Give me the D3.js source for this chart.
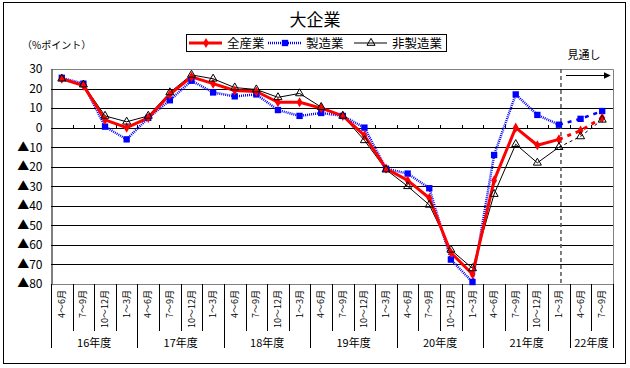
<!DOCTYPE html>
<html>
<head>
<meta charset="utf-8">
<script src="https://cdn.jsdelivr.net/npm/d3@7"></script>
<style>
  body { margin: 0; background: #fff; }
  text { font-family: 'Noto Sans CJK JP', sans-serif; fill: #000; }
</style>
</head>
<body>
<div id="chart"></div>
<script>
// quarter labels, fiscal years and how many quarters each year has
const quarterNames = ['4～6月', '7～9月', '10～12月', '1～3月']
const fiscalYears = ['16年度', '17年度', '18年度', '19年度', '20年度', '21年度', '22年度']
const quartersPerYear = [4, 4, 4, 4, 4, 4, 2]

// DI (%ポイント)
const allIndustries = [25, 21.5, 4, 0, 5, 17, 26, 22.5, 19, 18.5, 13, 13, 10, 6, -4, -21, -27, -36, -64, -75, -27, 0, -9, -6, -1.5, 5]
const manufacturing = [25.5, 22.5, 0.5, -6, 5, 14, 24, 18, 16, 17, 9, 6, 7.5, 6, 0, -21, -23.5, -31, -67.5, -79, -14, 17, 6.5, 1.5, 4.5, 8.5]
const nonManufacturing = [25, 22, 6, 3, 6, 18, 27, 25, 20.5, 19.5, 15.5, 17.5, 10.5, 6, -6.5, -21.5, -30, -39.5, -62.5, -72, -34, -8.5, -18, -10, -4.5, 4]

const yTicks = [30, 20, 10, 0, -10, -20, -30, -40, -50, -60, -70, -80]
const forecastFrom = 23 // last actual quarter, dashed after it

// build the category list
const cats = []
fiscalYears.forEach((fy, j) => {
  for (let q = 0; q < quartersPerYear[j]; q++) cats.push({ fy, q: quarterNames[q] })
})
const idx = d3.range(cats.length)

const width = 630
const height = 368
const plot = { left: 51, right: 613, top: 69, bottom: 284 }

const svg = d3.select('#chart').append('svg').attr('width', width).attr('height', height)

// outer frame
svg.append('rect')
  .attr('x', 3.5).attr('y', 2.5).attr('width', 622).attr('height', 361)
  .attr('fill', 'none').attr('stroke', '#000').attr('stroke-width', 1)

const x = d3.scaleBand().domain(idx).range([plot.left, plot.right])
const bw = x.bandwidth()
const cx = i => x(i) + bw / 2
const y = d3.scaleLinear().domain([-80, 30]).range([plot.bottom, plot.top])

// gridlines
svg.append('g')
  .selectAll('line')
  .data(yTicks.filter(v => v !== 30 && v !== -80))
  .join('line')
  .attr('x1', plot.left).attr('x2', plot.right)
  .attr('y1', d => Math.round(y(d)) + 0.5).attr('y2', d => Math.round(y(d)) + 0.5)
  .attr('stroke', '#000')

// plot border (gray top/right/bottom)
svg.append('path')
  .attr('d', `M${plot.left},${Math.round(y(30)) + 0.5}H${plot.right + 0.5}V${Math.round(y(-80)) + 0.5}H${plot.left}`)
  .attr('stroke', '#808080').attr('fill', 'none')

// y axis
const yAxis = d3.axisLeft(y)
  .tickValues(yTicks)
  .tickSize(0)
  .tickPadding(9)
  .tickFormat(d => (d < 0 ? '▲' + (-d) : d))
const gy = svg.append('g').attr('transform', `translate(${plot.left + 0.5},0)`).call(yAxis)
gy.select('.domain').attr('stroke', '#000')
gy.selectAll('text').style('font-size', '12px').attr('fill', '#000')

// small ticks on the zero line
svg.append('g')
  .selectAll('line')
  .data(idx.slice(1))
  .join('line')
  .attr('x1', d => Math.round(x(d)) + 0.5).attr('x2', d => Math.round(x(d)) + 0.5)
  .attr('y1', Math.round(y(0)) - 3).attr('y2', Math.round(y(0)) + 1)
  .attr('stroke', '#000')

// category separators below the plot
const yearStarts = new Set()
let acc = 0
quartersPerYear.forEach(n => { yearStarts.add(acc); acc += n })
yearStarts.add(cats.length)
svg.append('g')
  .selectAll('line')
  .data(d3.range(cats.length + 1))
  .join('line')
  .attr('x1', d => Math.round(d < cats.length ? x(d) : plot.right) + 0.5)
  .attr('x2', d => Math.round(d < cats.length ? x(d) : plot.right) + 0.5)
  .attr('y1', plot.bottom)
  .attr('y2', d => (yearStarts.has(d) ? 348 : 331))
  .attr('stroke', '#000')

// quarter labels (rotated)
svg.append('g')
  .selectAll('text')
  .data(idx)
  .join('text')
  .attr('transform', d => `translate(${cx(d) + 3},${plot.bottom + 6}) rotate(-90)`)
  .attr('text-anchor', 'end')
  .style('font-size', '9px')
  .text(d => cats[d].q)

// fiscal year labels
let start = 0
const yearPos = quartersPerYear.map((n, j) => {
  const a = x(start)
  const b = start + n < cats.length ? x(start + n) : plot.right
  start += n
  return { label: fiscalYears[j], mid: (a + b) / 2 }
})
svg.append('g')
  .selectAll('text')
  .data(yearPos)
  .join('text')
  .attr('x', d => d.mid)
  .attr('y', 347)
  .attr('text-anchor', 'middle')
  .style('font-size', '11px')
  .text(d => d.label)

// forecast divider and arrow
const divX = cx(forecastFrom) + 2
svg.append('line')
  .attr('x1', divX).attr('x2', divX)
  .attr('y1', plot.top).attr('y2', plot.bottom)
  .attr('stroke', '#555').attr('stroke-width', 1.5).attr('stroke-dasharray', '4,3')

svg.append('defs').append('marker')
  .attr('id', 'arrow').attr('viewBox', '0 0 10 10').attr('refX', 9).attr('refY', 5)
  .attr('markerWidth', 7).attr('markerHeight', 7).attr('markerUnits', 'userSpaceOnUse')
  .attr('orient', 'auto')
  .append('path').attr('d', 'M0,0L10,5L0,10z').attr('fill', '#000')

svg.append('line')
  .attr('x1', divX + 5).attr('x2', plot.right - 3)
  .attr('y1', plot.top + 6.5).attr('y2', plot.top + 6.5)
  .attr('stroke', '#000').attr('stroke-width', 1.2)
  .attr('marker-end', 'url(#arrow)')

svg.append('text')
  .attr('x', divX + 23).attr('y', 59)
  .attr('text-anchor', 'middle')
  .style('font-size', '11px')
  .text('見通し')

// series
const series = [
  { name: '非製造業', values: nonManufacturing, color: '#000', width: 1, dash: null, fdash: '3,3', marker: 'triangle' },
  { name: '製造業', values: manufacturing, color: '#0000ff', width: 2.5, dash: '1,1', fdash: '4,5', marker: 'square' },
  { name: '全産業', values: allIndustries, color: '#ff0000', width: 3, dash: null, fdash: '4,5', marker: 'diamond' }
]

const line = d3.line().x(d => cx(d.i)).y(d => y(d.v))

const lines = svg.append('g').attr('fill', 'none')
series.forEach(s => {
  const pts = s.values.map((v, i) => ({ i, v }))
  lines.append('path')
    .attr('d', line(pts.slice(0, forecastFrom + 1)))
    .attr('stroke', s.color).attr('stroke-width', s.width)
    .attr('stroke-dasharray', s.dash)
    .attr('stroke-linejoin', 'round')
  lines.append('path')
    .attr('d', line(pts.slice(forecastFrom)))
    .attr('stroke', s.color).attr('stroke-width', s.width)
    .attr('stroke-dasharray', s.fdash)
})

const symbols = {
  triangle: d3.symbol().type(d3.symbolTriangle).size(28),
  square: d3.symbol().type(d3.symbolSquare).size(40),
  diamond: d3.symbol().type(d3.symbolDiamond).size(30)
}

function drawMarker(g, kind, color) {
  if (kind === 'triangle') {
    g.append('path').attr('d', symbols.triangle()).attr('fill', 'none').attr('stroke', '#000').attr('stroke-width', 1)
  } else {
    g.append('path').attr('d', symbols[kind]()).attr('fill', color)
  }
}

// markers: squares, diamonds, then hollow triangles on top
const markerOrder = [series[1], series[2], series[0]]
markerOrder.forEach(s => {
  svg.append('g')
    .selectAll('g')
    .data(s.values)
    .join('g')
    .attr('transform', (v, i) => `translate(${cx(i)},${y(v)})`)
    .each(function () { drawMarker(d3.select(this), s.marker, s.color) })
})

// title
svg.append('text')
  .attr('x', 315).attr('y', 26)
  .attr('text-anchor', 'middle')
  .style('font-size', '17px')
  .text('大企業')

svg.append('text')
  .attr('x', 22).attr('y', 49)
  .style('font-size', '10px')
  .text('（%ポイント）')

// legend
const legend = svg.append('g').attr('transform', 'translate(186,34)')
legend.append('rect')
  .attr('x', 0.5).attr('y', 0.5).attr('width', 260).attr('height', 17)
  .attr('fill', '#fff').attr('stroke', '#000')
const legendItems = [series[2], series[1], series[0]]
const legendX = [3, 82, 168]
legendItems.forEach((s, k) => {
  const g = legend.append('g').attr('transform', `translate(${legendX[k]},9)`)
  g.append('line')
    .attr('x1', 0).attr('x2', 33).attr('y1', 0).attr('y2', 0)
    .attr('stroke', s.color).attr('stroke-width', s.width)
    .attr('stroke-dasharray', s.dash)
  const m = g.append('g').attr('transform', 'translate(17,0)')
  drawMarker(m, s.marker, s.color)
  g.append('text')
    .attr('x', 38).attr('y', 5)
    .style('font-size', '12.5px')
    .text(s.name)
})
</script>
</body>
</html>
